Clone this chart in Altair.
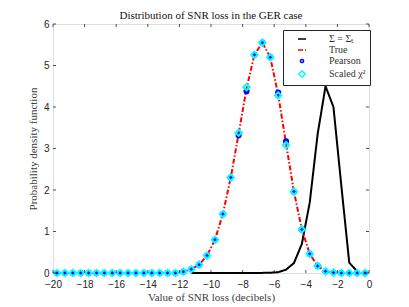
import altair as alt
import pandas as pd

# bin centres (decibels)
x_bins = [-19.75 + 0.5 * i for i in range(40)]

true_vals = [0, 0, 0, 0, 0, 0, 0, 0, 0, 0, 0, 0, 0, 0, 0, 0,
             0.03, 0.09, 0.2, 0.42, 0.8, 1.42, 2.3, 3.36, 4.45, 5.26, 5.55, 5.2,
             4.3, 3.12, 1.96, 1.05, 0.46, 0.17, 0.04, 0.01, 0, 0, 0, 0]
pearson_vals = [0, 0, 0, 0, 0, 0, 0, 0, 0, 0, 0, 0, 0, 0, 0, 0,
                0.03, 0.09, 0.2, 0.42, 0.8, 1.42, 2.3, 3.32, 4.38, 5.26, 5.55, 5.2,
                4.35, 3.17, 1.96, 1.05, 0.46, 0.17, 0.04, 0.01, 0, 0, 0, 0]
scaled_vals = [0, 0, 0, 0, 0, 0, 0, 0, 0, 0, 0, 0, 0, 0, 0, 0,
               0.03, 0.09, 0.2, 0.42, 0.8, 1.42, 2.3, 3.38, 4.48, 5.26, 5.55, 5.2,
               4.28, 3.08, 1.96, 1.05, 0.46, 0.17, 0.04, 0.01, 0, 0, 0, 0]

sigt_x = [-11.25, -10.75, -10.25, -9.75, -9.25, -8.75, -8.25, -7.75, -7.25, -6.75,
          -6.25, -5.75, -5.25, -4.75, -4.25, -3.75, -3.25, -2.75, -2.25, -1.75,
          -1.25, -0.75]
sigt_vals = [0, 0, 0, 0, 0, 0, 0, 0, 0, 0.003,
             0.006, 0.02, 0.08, 0.24, 0.7, 1.7, 3.35, 4.5, 4.0, 2.1,
             0.25, 0.04]

x_ticks = [-20, -18, -16, -14, -12, -10, -8, -6, -4, -2, 0]
y_ticks = [0, 1, 2, 3, 4, 5, 6]

names = ["Σ = Σₜ", "True", "Pearson", "Scaled χ²"]
colors = ["#000000", "#ff0000", "#0000ff", "#00ffff"]
shapes = ["stroke", "stroke", "circle", "diamond"]
dashes = [[1, 0], [5, 2, 1.5, 2], [1, 0], [1, 0]]
sizes = [64, 64, 10, 40]

W, H = 316, 249
AX = "#262626"
SERIF = "Liberation Serif"

df_sig = pd.DataFrame({"x": sigt_x, "y": sigt_vals, "s": names[0]})
df_true = pd.DataFrame({"x": x_bins, "y": true_vals, "s": names[1]})
df_p = pd.DataFrame({"x": x_bins, "y": pearson_vals, "s": names[2]})
df_c = pd.DataFrame({"x": x_bins, "y": scaled_vals, "s": names[3]})

xs = alt.Scale(domain=[-20, 0], nice=False, zero=False)
ys = alt.Scale(domain=[0, 6], nice=False)

legend = alt.Legend(
    title=None, orient="none", legendX=230, legendY=6,
    fillColor="white", strokeColor=AX, padding=4, cornerRadius=0,
    labelFont=SERIF, labelFontSize=10, labelColor="#333333",
    rowPadding=1, symbolOffset=10, labelOffset=22, labelLimit=200,
)

color = alt.Color("s:N", scale=alt.Scale(domain=names, range=colors), legend=legend)
shape = alt.Shape("s:N", scale=alt.Scale(domain=names, range=shapes), legend=legend)
dash = alt.StrokeDash("s:N", scale=alt.Scale(domain=names, range=dashes), legend=legend)
size = alt.Size("s:N", scale=alt.Scale(type="ordinal", domain=names, range=sizes), legend=legend)

xaxis = alt.Axis(
    values=x_ticks, ticks=False, domain=False, grid=False, labelFont="Liberation Sans",
    labelFontSize=10, labelColor=AX, labelPadding=6, labelFlush=False,
    title="Value of SNR loss (decibels)",
    titleFont=SERIF, titleFontSize=11, titleFontWeight="normal", titleColor="#404040",
    titlePadding=2)
yaxis = alt.Axis(
    values=y_ticks, ticks=False, domain=False, grid=False, labelFont="Liberation Sans",
    labelFontSize=10, labelColor=AX, labelPadding=4, labelFlush=False,
    title="Probability density function",
    titleFont=SERIF, titleFontSize=11, titleFontWeight="normal", titleColor="#404040",
    titlePadding=5)
xenc = alt.X("x:Q", scale=xs, axis=xaxis)
yenc = alt.Y("y:Q", scale=ys, axis=yaxis)

sig_line = alt.Chart(df_sig).mark_line(strokeWidth=2).encode(
    x=xenc, y=yenc, color=color, strokeDash=dash)
true_line = alt.Chart(df_true).mark_line(strokeWidth=2).encode(
    x=xenc, y=yenc, color=color, strokeDash=dash)
pear = alt.Chart(df_p).mark_point(filled=False, strokeWidth=3, opacity=1).encode(
    x=xenc, y=yenc, color=color, shape=shape, size=size)
scal = alt.Chart(df_c).mark_point(filled=False, strokeWidth=2,
                                  opacity=1).encode(x=xenc, y=yenc, color=color, shape=shape, size=size)

dfx = pd.DataFrame({"t": x_ticks})
dfy = pd.DataFrame({"t": y_ticks})
tx = alt.X("t:Q", scale=xs, axis=xaxis)
ty = alt.Y("t:Q", scale=ys, axis=yaxis)
tick_b = alt.Chart(dfx).mark_rule(color=AX, strokeWidth=0.8).encode(x=tx, y=alt.value(H), y2=alt.value(H - 3))
tick_t = alt.Chart(dfx).mark_rule(color=AX, strokeWidth=0.8).encode(x=tx, y=alt.value(0), y2=alt.value(3))
tick_l = alt.Chart(dfy).mark_rule(color=AX, strokeWidth=0.8).encode(y=ty, x=alt.value(0), x2=alt.value(3))
tick_r = alt.Chart(dfy).mark_rule(color=AX, strokeWidth=0.8).encode(y=ty, x=alt.value(W), x2=alt.value(W - 3))

chart = alt.layer(sig_line, true_line, pear, scal, tick_b, tick_t, tick_l, tick_r).properties(
    width=W, height=H,
    title=alt.Title("Distribution of SNR loss in the GER case", font=SERIF, fontSize=11,
                    fontWeight="normal", color="#111111", offset=0, dy=2),
    autosize=alt.AutoSizeParams(type="none"),
    padding={"left": 45, "top": 16, "right": 30, "bottom": 34},
).configure_view(stroke=AX, strokeWidth=0.8).configure(background="white")

chart.save("out.html", embed_options={"renderer": "svg", "actions": False})
